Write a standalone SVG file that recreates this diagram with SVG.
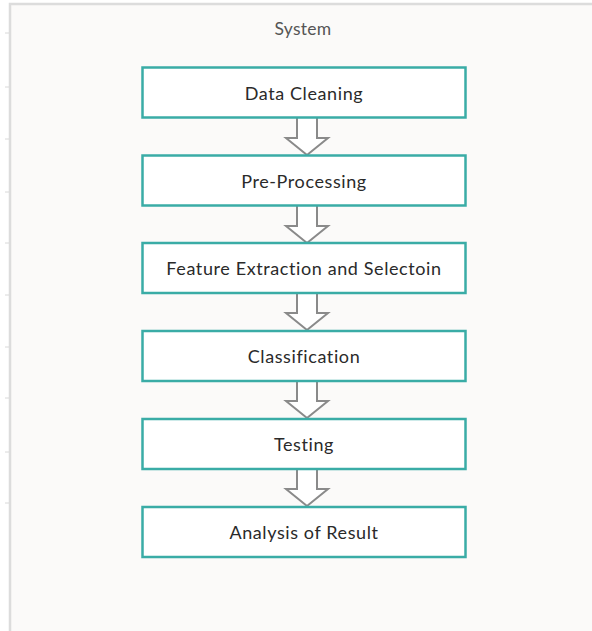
<svg xmlns="http://www.w3.org/2000/svg" width="592" height="631" viewBox="0 0 592 631">
<defs>
<style>
.node rect{fill:#ffffff;stroke:#3aaca6;stroke-width:2.5}
.lbl{font-family:Lato,"Open Sans",sans-serif;font-size:18px;letter-spacing:0.6px;fill:#2a2a2a;text-anchor:middle}
.title{font-family:Lato,"Open Sans",sans-serif;font-size:17.5px;letter-spacing:0.3px;fill:#555555;text-anchor:middle}
.arrow{fill:#ffffff;stroke:#8a8a8a;stroke-width:2;stroke-linejoin:miter}
.tick{stroke:#d8d8d8;stroke-width:1}
</style>
<path id="arr" class="arrow" d="M-10,0 V20 H-21 L0,37 L21,20 H10 V0"/>
</defs>
<rect x="0" y="0" width="592" height="631" fill="#ffffff"/>
<g id="system">
<rect x="10" y="4" width="590" height="640" fill="#fbfaf9" stroke="#dcdcdc" stroke-width="2.5"/>
<g class="tick">
<line x1="5" y1="33" x2="9" y2="33"/><line x1="5" y1="87" x2="9" y2="87"/>
<line x1="5" y1="139" x2="9" y2="139"/><line x1="5" y1="192" x2="9" y2="192"/>
<line x1="5" y1="243" x2="9" y2="243"/><line x1="5" y1="295" x2="9" y2="295"/>
<line x1="5" y1="347" x2="9" y2="347"/><line x1="5" y1="398" x2="9" y2="398"/>
<line x1="5" y1="452" x2="9" y2="452"/><line x1="5" y1="503" x2="9" y2="503"/>
</g>
<text class="title" x="303" y="35">System</text>
</g>
<g id="connectors">
<use href="#arr" x="307" y="118"/>
<use href="#arr" x="307" y="206"/>
<use href="#arr" x="307" y="293"/>
<use href="#arr" x="307" y="381"/>
<use href="#arr" x="307" y="469"/>
</g>
<g id="n1" class="node"><rect x="142.5" y="67.5" width="323" height="50"/><text class="lbl" x="304" y="99.5">Data Cleaning</text></g>
<g id="n2" class="node"><rect x="142.5" y="155.5" width="323" height="50"/><text class="lbl" x="304" y="187.5">Pre-Processing</text></g>
<g id="n3" class="node"><rect x="142.5" y="243" width="323" height="50"/><text class="lbl" x="304" y="275">Feature Extraction and Selectoin</text></g>
<g id="n4" class="node"><rect x="142.5" y="331" width="323" height="50"/><text class="lbl" x="304" y="363">Classification</text></g>
<g id="n5" class="node"><rect x="142.5" y="419" width="323" height="50"/><text class="lbl" x="304" y="451">Testing</text></g>
<g id="n6" class="node"><rect x="142.5" y="507" width="323" height="50"/><text class="lbl" x="304" y="539">Analysis of Result</text></g>
</svg>
